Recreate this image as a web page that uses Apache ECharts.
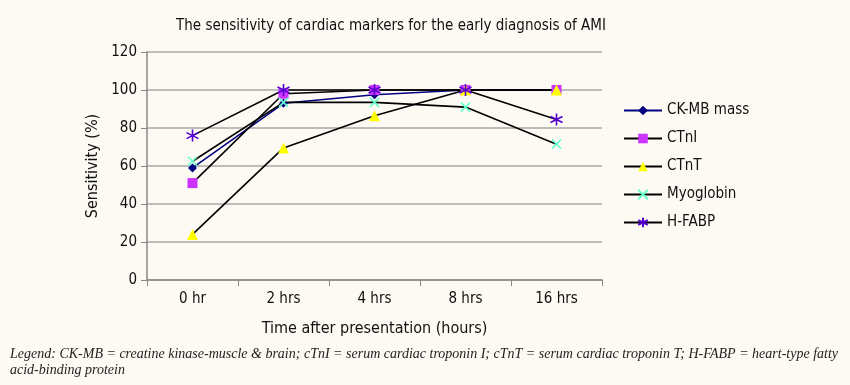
<!DOCTYPE html>
<html><head><meta charset="utf-8">
<script src="https://cdn.jsdelivr.net/npm/echarts@6/dist/echarts.min.js"></script>
<style>html,body{margin:0;padding:0;background:#fdfaf3;}#c{width:850px;height:385px;}</style>
</head><body><div id="c"></div>
<script>
const categories = ['0 hr', '2 hrs', '4 hrs', '8 hrs', '16 hrs'];
const ckmb = [59, 93, 97.5, 100, 100];
const ctni = [51, 98, 100, 100, 100];
const ctnt = [24, 69.5, 86.5, 100, 100];
const myoglobin = [62.5, 93.5, 93.5, 91, 71.5];
const hfabp = [76, 100, 100, 100, 84.5];
const yTicks = [0, 20, 40, 60, 80, 100, 120];

const narrow = '"Liberation Sans Narrow", "Arial Narrow", "DejaVu Sans Condensed", sans-serif';
const xPath = 'path://M0,0 L10,10 M10,0 L0,10';
const starPath = 'path://M5,0 L5,10 M0.7,2.5 L9.3,7.5 M9.3,2.5 L0.7,7.5';

const chart = echarts.init(document.getElementById('c'), null, {renderer: 'canvas'});
function mk(name, data, lineColor, symbol, size, color, stroke) {
  return {
    name, type: 'line', data, symbol, symbolSize: size,
    lineStyle: {color: lineColor, width: 1.6},
    itemStyle: stroke ? {color: color, borderColor: color, borderWidth: 1.6} : {color: color, borderWidth: 0},
    emphasis: {disabled: true}, animation: false
  };
}
chart.setOption({
  backgroundColor: '#fdfaf3',
  animation: false,
  title: {
    text: 'The sensitivity of cardiac markers for the early diagnosis of AMI',
    left: 386, top: 14, textAlign: 'center',
    textStyle: {fontFamily: narrow, fontSize: 15, fontWeight: 'normal', color: '#111'}
  },
  grid: {left: 147, top: 52, right: 248, bottom: 105},
  legend: {
    orient: 'vertical', left: 618, top: 98, padding: 5, itemGap: 13, itemWidth: 38, itemHeight: 12,
    textStyle: {fontFamily: narrow, fontSize: 15, color: '#111'},
    data: ['CK-MB mass', 'CTnI', 'CTnT', 'Myoglobin', 'H-FABP']
  },
  xAxis: {
    type: 'category', data: categories, boundaryGap: true,
    name: 'Time after presentation (hours)', nameLocation: 'middle', nameGap: 41,
    nameTextStyle: {fontFamily: narrow, fontSize: 16, color: '#111'},
    axisLine: {lineStyle: {color: '#888', width: 1.5}},
    axisTick: {show: true, length: 6, lineStyle: {color: '#888'}},
    axisLabel: {fontFamily: narrow, fontSize: 15, color: '#111', margin: 12}
  },
  yAxis: {
    type: 'value', min: 0, max: 120, interval: 20,
    name: 'Sensitivity (%)', nameLocation: 'middle', nameGap: 32, nameRotate: 90,
    nameTextStyle: {fontFamily: narrow, fontSize: 16, color: '#111'},
    axisLine: {show: true, lineStyle: {color: '#888', width: 1.5}},
    axisTick: {show: true, length: 6, lineStyle: {color: '#888'}},
    axisLabel: {fontFamily: narrow, fontSize: 15, color: '#111', margin: 10,
      formatter: v => yTicks.includes(v) ? String(v) : ''},
    splitLine: {lineStyle: {color: '#a8a8a8', width: 1.5}}
  },
  series: [
    mk('CK-MB mass', ckmb, '#000080', 'diamond', 9, '#000080', false),
    mk('CTnI', ctni, '#000000', 'rect', 10, '#cc33ff', false),
    mk('CTnT', ctnt, '#000000', 'triangle', 11, '#ffff00', false),
    mk('Myoglobin', myoglobin, '#000000', xPath, 9, '#66ffcc', true),
    mk('H-FABP', hfabp, '#000000', starPath, 12, '#5500cc', true)
  ],
  graphic: [
    {type: 'text', left: 10, top: 347, style: {text: 'Legend: CK-MB = creatine kinase-muscle & brain; cTnI = serum cardiac troponin I; cTnT = serum cardiac troponin T; H-FABP = heart-type fatty', font: 'italic 14px "Liberation Serif", serif', fill: '#222'}},
    {type: 'text', left: 10, top: 363, style: {text: 'acid-binding protein', font: 'italic 14px "Liberation Serif", serif', fill: '#222'}}
  ]
});
</script></body></html>
